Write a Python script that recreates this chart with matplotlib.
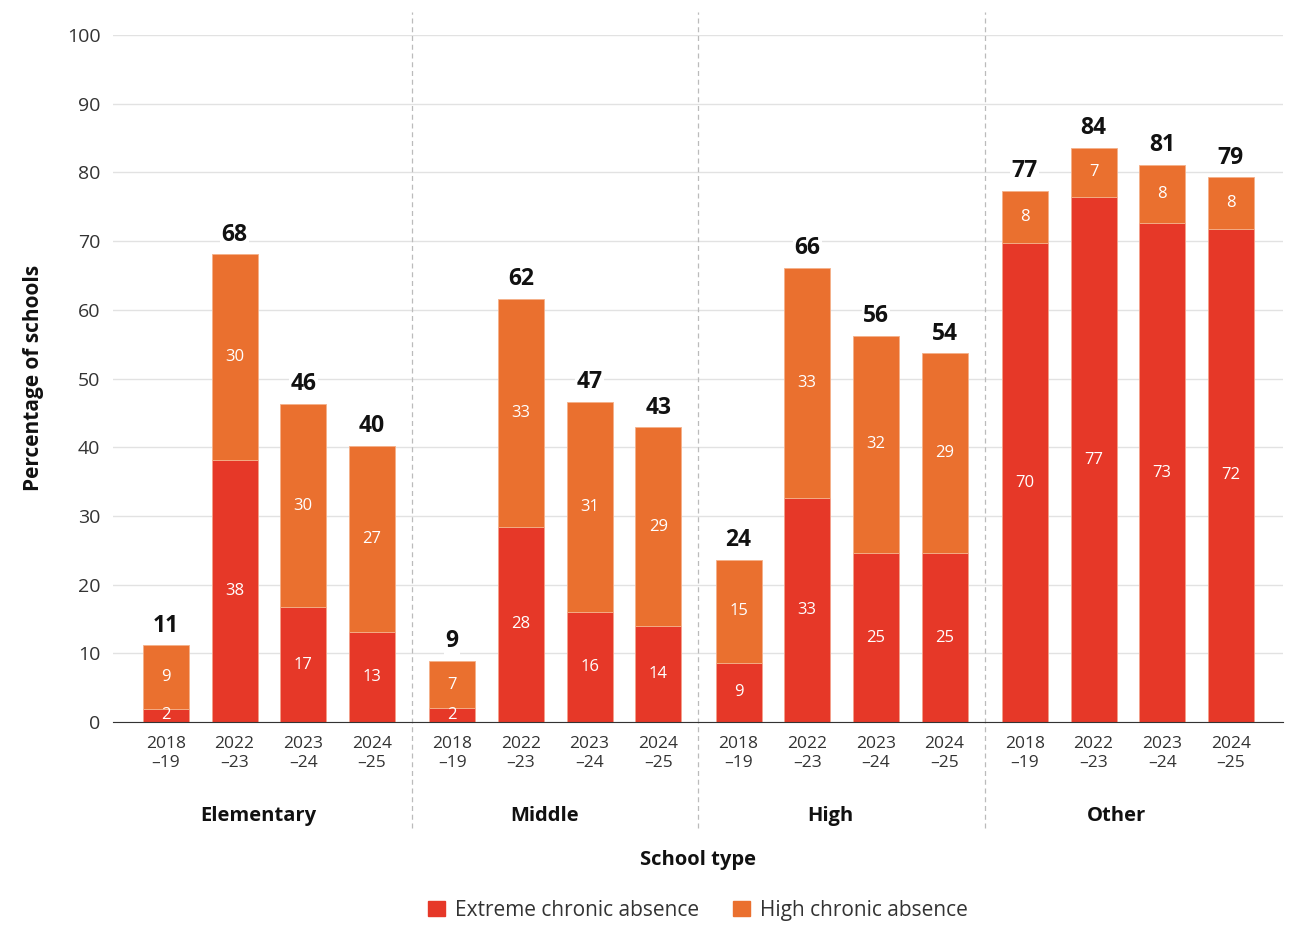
import matplotlib.pyplot as plt
import matplotlib.patches as mpatches
import numpy as np

plt.rcParams['font.family'] = ['Open Sans', 'DejaVu Sans']

groups = ['Elementary', 'Middle', 'High', 'Other']
years = ['2018\n\u201319', '2022\n\u201323', '2023\n\u201324', '2024\n\u201325']

# bar heights (percent of schools)
extreme = [1.9, 38.1, 16.7, 13.1,
           2.0, 28.4, 16.0, 14.0,
           8.6, 32.6, 24.6, 24.6,
           69.7, 76.4, 72.6, 71.8]
total = [11.2, 68.1, 46.3, 40.2,
         8.9, 61.6, 46.6, 42.9,
         23.6, 66.1, 56.2, 53.7,
         77.3, 83.6, 81.1, 79.3]
# printed labels
extreme_lbl = [2, 38, 17, 13, 2, 28, 16, 14, 9, 33, 25, 25, 70, 77, 73, 72]
high_lbl = [9, 30, 30, 27, 7, 33, 31, 29, 15, 33, 32, 29, 8, 7, 8, 8]
total_lbl = [11, 68, 46, 40, 9, 62, 47, 43, 24, 66, 56, 54, 77, 84, 81, 79]

red = '#e63828'
orange = '#ea702f'
gstep = 4.17

high = [t - e for t, e in zip(total, extreme)]
x = np.array([g * gstep + j for g in range(4) for j in range(4)])

fig = plt.figure(figsize=(13, 9.26), dpi=100)
ax = fig.add_axes([0.0869, 0.2203, 0.9001, 0.7419])

ax.bar(x, extreme, width=0.67, color=red, edgecolor='#f4a08a', linewidth=0.6, zorder=3)
ax.bar(x, high, bottom=extreme, width=0.67, color=orange, edgecolor='#f4b08a', linewidth=0.6, zorder=3)

for i in range(len(x)):
    ax.text(x[i], extreme[i] / 2, str(extreme_lbl[i]), ha='center', va='center',
            color='white', fontsize=12, zorder=4)
    ax.text(x[i], extreme[i] + high[i] / 2, str(high_lbl[i]), ha='center', va='center',
            color='white', fontsize=12, zorder=4)
    ax.text(x[i], total[i] + 1.1, str(total_lbl[i]), ha='center', va='bottom',
            fontsize=16.5, fontweight='bold', color='#111111', zorder=4,
            bbox=dict(facecolor='white', edgecolor='none', pad=1))

ax.set_xlim(-0.77, 3 * gstep + 3 + 0.76)
ax.set_ylim(0, 100)
ax.set_yticks(range(0, 101, 10))
ax.set_xticks(x)
ax.set_xticklabels(years * 4, fontsize=12.5, color='#333333', linespacing=1.3)
ax.tick_params(axis='x', length=0, pad=10)
ax.tick_params(axis='y', length=0, pad=9, labelsize=14, labelcolor='#333333')
ax.grid(axis='y', color='#e2e2e2', linewidth=1, zorder=0)
for s in ['top', 'right', 'left']:
    ax.spines[s].set_visible(False)
ax.spines['bottom'].set_color('#333333')
ax.spines['bottom'].set_zorder(5)

# group separators
for g in range(1, 4):
    sx = g * gstep - 0.5 - (gstep - 4) / 2
    ax.plot([sx, sx], [-0.154, 1.033], transform=ax.get_xaxis_transform(),
            color='#bbbbbb', linestyle=(0, (4, 3)), linewidth=0.9, clip_on=False)

for g, name in enumerate(groups):
    cx = g * gstep + 1.34
    ax.text(cx, -0.137, name, transform=ax.get_xaxis_transform(), ha='center',
            va='center', fontsize=14.5, fontweight='bold', color='#111111')

fig.text(0.537, 0.0713, 'School type', ha='center', va='center', fontsize=14.5,
         fontweight='bold', color='#111111')
fig.text(0.026, 0.592, 'Percentage of schools', ha='center', va='center',
         rotation=90, fontsize=15, fontweight='bold', color='#111111')

handles = [mpatches.Patch(color=red, label='Extreme chronic absence'),
           mpatches.Patch(color=orange, label='High chronic absence')]
fig.legend(handles=handles, loc='center', bbox_to_anchor=(0.537, 0.017), ncol=2,
           frameon=False, fontsize=15, handlelength=0.8, handleheight=0.8,
           handletextpad=0.5, columnspacing=1.6, labelcolor='#333333')

fig.savefig('out.png', dpi=100)
